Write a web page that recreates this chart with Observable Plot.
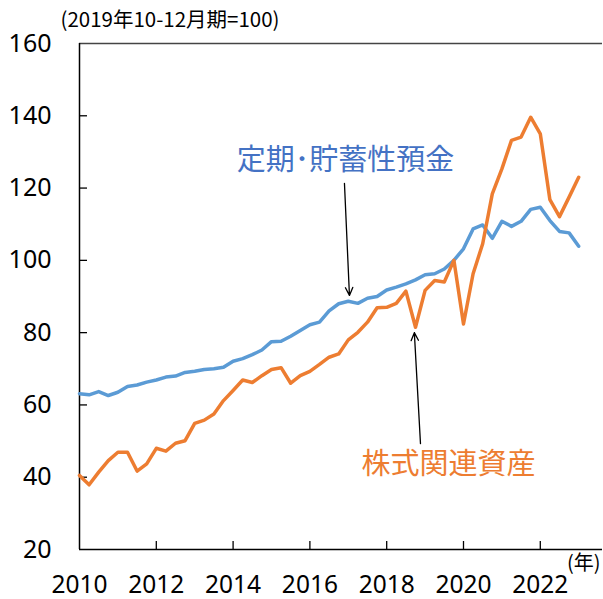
<!DOCTYPE html>
<html><head><meta charset="utf-8">
<script src="https://cdn.jsdelivr.net/npm/d3@7"></script>
<script src="https://cdn.jsdelivr.net/npm/@observablehq/plot@0.6"></script>
<style>
body{margin:0;background:#fff}
#chart svg{display:block}
</style>
</head><body><div id="chart"></div>
<script>
// Quarterly index (2019 Q4 = 100), 2010 Q1 .. 2022 Q4
const startYear = 2010;
const deposits = [63.1,62.8,63.7,62.6,63.5,65.1,65.5,66.3,66.9,67.7,68.0,69.0,69.3,69.8,
  70.0,70.4,72.1,72.8,73.9,75.2,77.5,77.6,79.0,80.6,82.2,82.9,86.0,
  88.0,88.7,88.1,89.5,90.0,91.8,92.6,93.5,94.6,96.0,96.3,97.6,100,
  103.2,108.7,109.8,106.1,110.8,109.4,110.8,114.1,114.7,111.0,108.0,107.6,103.9];
const equities = [40.5,37.9,41.4,44.6,46.9,46.9,41.7,43.7,48.0,47.2,49.4,50.1,54.9,55.8,
  57.5,61.2,64.0,66.9,66.2,68.1,69.8,70.3,66.0,68.1,69.3,71.2,73.2,
  74.1,78.0,80.1,82.9,86.9,87.0,88.1,91.5,81.5,91.7,94.4,94.0,100,
  82.4,96.3,104.6,118.4,125.3,133.2,134.1,139.6,135.0,116.8,112.1,117.5,123.0];
const seriesNames = ["定期･貯蓄性預金", "株式関連資産"];
const lineColors = ["#5B9BD5", "#ED7D31"];
const labelColors = ["#4472C4", "#ED7D31"];
const xTicks = [2010, 2012, 2014, 2016, 2018, 2020, 2022];
const yTicks = [20, 40, 60, 80, 100, 120, 140, 160];
const xDomain = [2010, 2023.62];
const yDomain = [20, 160];
const unitLabel = "(2019年10-12月期=100)";
const xUnitLabel = "(年)";
// annotation anchors in data coordinates
const labelPos = [{x: 2016.93, y: 127.6}, {x: 2019.61, y: 43.4}];
const arrowPos = [
  {x1: 2016.90, y1: 121.3, x2: 2017.03, y2: 90.3},
  {x1: 2018.88, y1: 49.3, x2: 2018.72, y2: 80.0}
];

const toRows = (vals, s) => vals.map((v, i) => ({t: startYear + i / 4, v, s}));
const rows = [...toRows(deposits, seriesNames[0]), ...toRows(equities, seriesNames[1])];
const labels = seriesNames.map((name, i) => ({name, ...labelPos[i], color: labelColors[i]}));

const W = 603, H = 599, mT = 43, mL = 79, mR = 1, mB = 50;
const plotH = H - mT - mB, plotW = W - mL - mR, tickLen = 8;
const numFont = "'Noto Sans', 'Liberation Sans', sans-serif";
const jpFont = "'Noto Sans CJK JP', 'Noto Sans', sans-serif";

const chart = Plot.plot({
  width: W, height: H,
  marginTop: mT, marginLeft: mL, marginRight: mR, marginBottom: mB,
  x: {domain: xDomain},
  y: {domain: yDomain},
  style: {fontFamily: numFont, background: "#fff", color: "#000"},
  marks: [
    Plot.axisX(xTicks, {tickSize: 0, tickPadding: 26, fontSize: 24.5, tickFormat: d => String(d), label: null, fontFamily: numFont}),
    Plot.axisY(yTicks, {tickSize: 0, tickPadding: 28, fontSize: 25, label: null, fontFamily: numFont}),
    Plot.tickX(xTicks.slice(1), {x: d => d, insetTop: plotH - tickLen, stroke: "#000", strokeWidth: 1.3}),
    Plot.tickY(yTicks.slice(1, -1), {y: d => d, insetRight: plotW - tickLen, stroke: "#000", strokeWidth: 1.3}),
    Plot.ruleY([yDomain[0], yDomain[1]], {stroke: d => d === yDomain[0] ? "#000" : "#444", strokeWidth: 1.5}),
    Plot.ruleX([xDomain[0]], {stroke: "#000", strokeWidth: 1.5}),
    Plot.line(rows, {x: "t", y: "v", z: "s", stroke: d => lineColors[seriesNames.indexOf(d.s)], strokeWidth: 3.5, strokeLinejoin: "round"}),
    Plot.arrow(arrowPos, {x1: "x1", y1: "y1", x2: "x2", y2: "y2", stroke: "#000", strokeWidth: 1.3, headLength: 10, headAngle: 50}),
    Plot.text(labels, {x: "x", y: "y", text: "name", fill: "color", fontSize: 29, fontFamily: jpFont, textAnchor: "middle", lineAnchor: "middle"}),
    Plot.text([unitLabel], {frameAnchor: "top-left", text: d => d, dx: -19, dy: -31, fontSize: 20.5, fontFamily: jpFont, textAnchor: "start", lineAnchor: "top", fill: "#000"}),
    Plot.text([xUnitLabel], {frameAnchor: "bottom-right", text: d => d, dx: -2, dy: 6, fontSize: 20, fontFamily: jpFont, textAnchor: "end", lineAnchor: "top", fill: "#000"})
  ]
});
document.getElementById("chart").appendChild(chart);
</script>
</body></html>
